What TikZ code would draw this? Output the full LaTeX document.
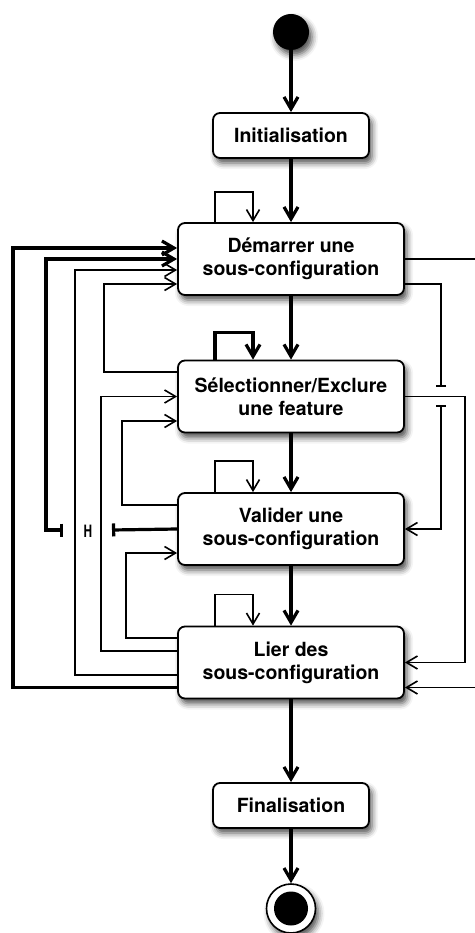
\documentclass[tikz,border=0pt]{standalone}
\usepackage{fontspec}
\setmainfont{TeX Gyre Heros}
\usetikzlibrary{arrows.meta,calc,shadows.blur}
\begin{document}
\begin{tikzpicture}[x=1pt,y=-1pt,
  shad/.style={blur shadow={shadow xshift=3pt, shadow yshift=-5pt, shadow blur radius=6pt, shadow opacity=70}},
  box/.style={draw, line width=1.8pt, rounded corners=7pt, fill=white, align=center,
    font=\fontsize{19.5}{23}\selectfont\bfseries, inner sep=0pt, shad},
  bigbox/.style={box, minimum width=226pt, minimum height=72pt},
  smallbox/.style={box, minimum width=156pt, minimum height=45pt},
  thinline/.style={line width=1.6pt},
  thickline/.style={line width=3.2pt},
  thinarrow/.style={thinline, -{Straight Barb[length=11pt,width=13pt]}},
  thickarrow/.style={thickline, -{Straight Barb[length=12pt,width=14pt]}},
  thinbar/.style={thinline, -{Bar[width=10pt]}},
  barthinarrow/.style={thinline, {Bar[width=10pt]}-{Straight Barb[length=11pt,width=13pt]}},
  thickbar/.style={thickline, -{Bar[width=13pt]}},
  barthickarrow/.style={thickline, {Bar[width=13pt]}-{Straight Barb[length=12pt,width=14pt]}}
]
\useasboundingbox (0,0) rectangle (474,933);

% nodes
\node[circle, fill=black, minimum size=36pt, inner sep=0pt, shad] (start) at (291,32) {};
\node[smallbox] (init) at (291,135.5) {Initialisation};
\node[bigbox] (dem) at (291,259) {Démarrer une\\sous-configuration};
\node[bigbox] (sel) at (291,396.5) {Sélectionner/Exclure\\une feature};
\node[bigbox] (val) at (291,529) {Valider une\\sous-configuration};
\node[bigbox] (lier) at (291,662.5) {Lier des\\sous-configuration};
\node[smallbox] (fin) at (291,805.5) {Finalisation};
\node[circle, draw, line width=1.6pt, fill=white, minimum size=49pt, inner sep=0pt, shad] (end) at (291,908.5) {};
\node[circle, fill=black, minimum size=34pt, inner sep=0pt] (endin) at (end.center) {};
\node[font=\fontsize{17}{17}\selectfont\bfseries, inner sep=0pt] (hist) at (88,531) {\scalebox{0.7}[1]{H}};
\coordinate (hl) at (63,530);
\coordinate (hr) at (112,530);

% main flow
\draw[thickarrow] (start) -- (init);
\draw[thickarrow] (init) -- (dem);
\draw[thickarrow] (dem) -- (sel);
\draw[thickarrow] (sel) -- (val);
\draw[thickarrow] (val) -- (lier);
\draw[thickarrow] (lier) -- (fin);
\draw[thickarrow] (fin) -- (end);

% self loops
\draw[thinarrow] ($(dem.north)+(-76,0)$) -- ++(0,-30) -| ($(dem.north)+(-38,0)$);
\draw[thickarrow] ($(sel.north)+(-76,0)$) -- ++(0,-27) -| ($(sel.north)+(-38,0)$);
\draw[thinarrow] ($(val.north)+(-76,0)$) -- ++(0,-31) -| ($(val.north)+(-38,0)$);
\draw[thinarrow] ($(lier.north)+(-76,0)$) -- ++(0,-31) -| ($(lier.north)+(-38,0)$);

% left side
\draw[thickarrow] ($(lier.west)+(0,25)$) -| (13,248) -- ($(dem.west)+(0,-11)$);
\draw[barthickarrow] (hl) -| (46,259) -- (dem.west);
\draw[thickbar] (val.west) -- (hr);
\draw[thinarrow] ($(lier.west)+(0,12.5)$) -| (75,270) -- ($(dem.west)+(0,11)$);
\draw[thinarrow] ($(sel.west)+(0,-24.5)$) -| (104,284) -- ($(dem.west)+(0,25)$);
\draw[thinarrow] ($(lier.west)+(0,-11.5)$) -| (101,396.5) -- (sel.west);
\draw[thinarrow] ($(val.west)+(0,-24)$) -| (122,421) -- ($(sel.west)+(0,24.5)$);
\draw[thinarrow] ($(lier.west)+(0,-24.5)$) -| (126,553) -- ($(val.west)+(0,24)$);

% right side
\draw[thinarrow] (dem.east) -- (490,259) |- ($(lier.east)+(0,25)$);
\draw[thinarrow] (sel.east) -- (465,396.5) |- (lier.east);
\draw[thinbar] ($(dem.east)+(0,25)$) -| (441,387);
\draw[barthinarrow] (441,405) |- (val.east);
\end{tikzpicture}
\end{document}
